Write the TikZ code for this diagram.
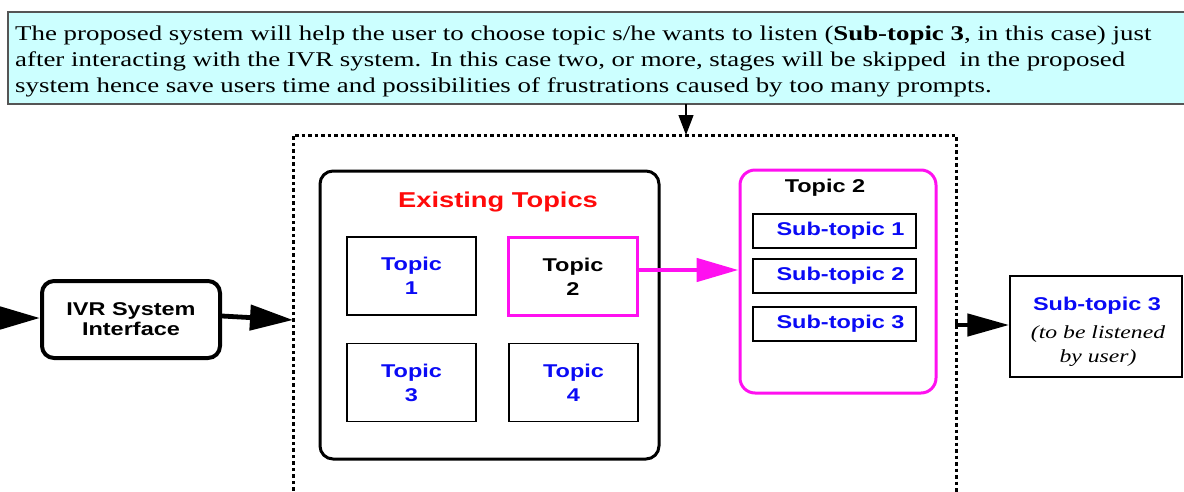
\documentclass[tikz,border=0pt]{standalone}
\usepackage{fontspec}
\setmainfont[FakeStretch=1.28]{Liberation Serif}
\setsansfont[FakeStretch=1.27]{Liberation Sans}
\usetikzlibrary{arrows.meta}
\definecolor{capfill}{HTML}{CCFFFF}
\definecolor{capline}{HTML}{555555}
\definecolor{tblue}{HTML}{0A0AF5}
\definecolor{tred}{HTML}{FF0A0A}
\definecolor{tmag}{HTML}{FF10F0}
\tikzset{
  sanslab/.style={font=\sffamily\bfseries\fontsize{18.5}{24}\selectfont, align=center, inner sep=0pt},
  topicbox/.style={draw, line width=1.5pt, minimum width=129pt, minimum height=78pt, inner sep=0pt},
  subbox/.style={draw, line width=1.5pt, minimum width=163pt, minimum height=34pt, inner sep=0pt},
  bigarrow/.style={line width=4.8pt, -{Triangle[length=42pt, width=23pt]}},
  dashframe/.style={line width=3pt, dash pattern=on 3.5pt off 3pt},
}
\begin{document}
\begin{tikzpicture}[x=1pt, y=-1pt]
\useasboundingbox (0,0) rectangle (1184,491);
% caption
\node[draw=capline, fill=capfill, line width=1.2pt, minimum width=1182pt, minimum height=92pt, inner sep=0pt] (cap) at (599,58) {};
\node[anchor=west, align=left, inner sep=0pt, font=\fontsize{21}{26}\selectfont] (captext) at (15,61)
{The proposed system will help the user to choose topic s/he wants to listen (\textbf{Sub-topic 3}, in this case) just\\
after interacting with the IVR system. In this case two, or more, stages will be skipped\ \ in the proposed\\
system hence save users time and possibilities of frustrations caused by too many prompts.};
% dashed frame
\coordinate (dbl) at (293,497);
\coordinate (dtl) at (293,135);
\coordinate (dtr) at (956,135);
\coordinate (dbr) at (956,497);
\draw[dashframe] (dbl) -- (dtl) -- (dtr) -- (dbr);
\coordinate (capa) at (686,104);
\coordinate (dtop) at (686,135);
\draw[line width=1.2pt, -{Triangle[length=20pt, width=15pt]}] (capa) -- (dtop);
% IVR
\node[draw, line width=4pt, rounded corners=12pt, minimum width=178pt, minimum height=77pt, inner sep=0pt,
  font=\sffamily\bfseries\fontsize{18.5}{20}\selectfont, align=center] (ivr) at (131,319.5) {IVR System\\Interface};
\coordinate (inl) at (-2,318);
\draw[bigarrow, -{Triangle[length=40pt, width=22pt]}] (inl) -- (inl -| ivr.west);
\coordinate (dl) at (293,320);
\draw[bigarrow, -{Triangle[length=43pt, width=25pt]}] (ivr.east |- 0,316) -- (dl);
% existing topics
\node[draw, line width=3pt, rounded corners=13pt, minimum width=339pt, minimum height=288pt, inner sep=0pt] (ex) at (489.5,315) {};
\node[font=\sffamily\bfseries\fontsize{21.5}{24}\selectfont, text=tred, inner sep=0pt] (exl) at (498,202) {Existing Topics};
\node[topicbox, sanslab, text=tblue] (t1) at (411.5,276) {Topic\\1};
\node[topicbox, sanslab, draw=tmag, line width=3pt] (t2) at (573,276.5) {Topic\\2};
\node[topicbox, sanslab, text=tblue] (t3) at (411.5,382.5) {Topic\\3};
\node[topicbox, sanslab, text=tblue] (t4) at (573.5,382.5) {Topic\\4};
% topic 2 detail
\node[draw=tmag, line width=3pt, rounded corners=15pt, minimum width=196pt, minimum height=223pt, inner sep=0pt] (big) at (838,281.5) {};
\node[sanslab] (bigl) at (825,188) {Topic 2};
\node[subbox, sanslab, text=tblue] (s1) at (834.5,231) {\hspace*{12pt}Sub-topic 1};
\node[subbox, sanslab, text=tblue] (s2) at (834.5,276) {\hspace*{12pt}Sub-topic 2};
\node[subbox, sanslab, text=tblue] (s3) at (834.5,324) {\hspace*{12pt}Sub-topic 3};
\coordinate (ma) at (636,270);
\draw[bigarrow, draw=tmag, fill=tmag] (ma) -- (ma -| big.west);
% result
\node[draw, line width=1.5pt, minimum width=172pt, minimum height=101pt, inner sep=0pt] (res) at (1096,326.5) {};
\node[sanslab, text=tblue] (resa) at (1097,306) {Sub-topic 3};
\node[align=center, inner sep=0pt, font=\itshape\fontsize{18.5}{24}\selectfont] (resb) at (1098,346)
{(to be listened\\by user)};
\coordinate (ra) at (955,325);
\draw[bigarrow, -{Triangle[length=42pt, width=22pt]}] (ra) -- (ra -| res.west);
\end{tikzpicture}
\end{document}
